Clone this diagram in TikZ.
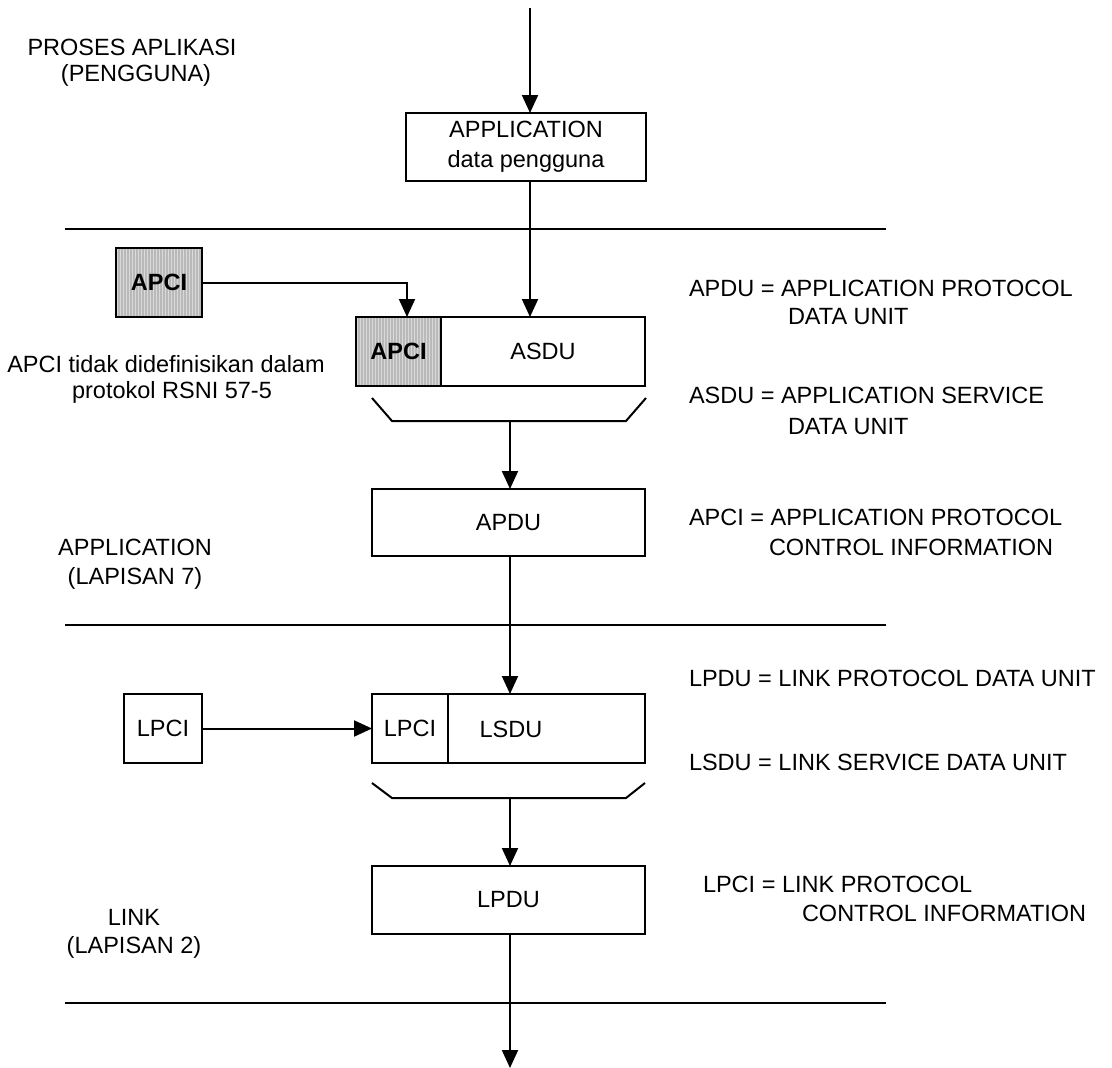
\documentclass[tikz,border=0pt]{standalone}
\usepackage{fontspec}
\setmainfont{Liberation Sans}
\usetikzlibrary{arrows.meta,patterns}
\begin{document}
\begin{tikzpicture}[x=1pt,y=-1pt,
  every node/.style={font=\fontsize{23.5}{30}\selectfont, inner sep=0pt, outer sep=0pt},
  ln/.style={line width=2pt},
  arr/.style={ln,-{Triangle[length=18pt,width=16pt]}},
  box/.style={draw,line width=2pt,fill=white,align=center},
  hatch/.style={draw,line width=2pt,preaction={fill=gray!55},
    pattern=vertical lines,pattern color=gray!30,font=\fontsize{23.5}{30}\selectfont\bfseries},
  txt/.style={anchor=base west},
  ctxt/.style={anchor=base}]

% page frame
\useasboundingbox (0,0) rectangle (1112,1068);

% layer separators
\coordinate (s1a) at (65,229);  \coordinate (s1b) at (886,229);
\coordinate (s2a) at (65,625);  \coordinate (s2b) at (886,625);
\coordinate (s3a) at (65,1003); \coordinate (s3b) at (886,1003);
\draw[ln] (s1a) -- (s1b);
\draw[ln] (s2a) -- (s2b);
\draw[ln] (s3a) -- (s3b);

% user data
\coordinate (topin) at (530,8);
\node[box,minimum width=240pt,minimum height=68pt] (app) at (526,147)
  {APPLICATION\\data pengguna};
\draw[arr] (topin) -- (app.north -| topin);

% application layer
\node[hatch,minimum width=86pt,minimum height=69pt] (apciL) at (159,282.5) {APCI};
\node[hatch,minimum width=85pt,minimum height=69pt] (apciA) at (398.5,351.5) {APCI};
\node[box,minimum width=204pt,minimum height=69pt] (asdu) at (543,351.5) {ASDU};
\coordinate (apin) at (407,317);
\draw[arr] (apciL.east) -| (apin);
\draw[arr] (app.south -| topin) -- (asdu.north -| topin);

\coordinate (b1a) at (372,398); \coordinate (b1b) at (392,421);
\coordinate (b1c) at (626,421); \coordinate (b1d) at (646,398);
\draw[ln] (b1a) -- (b1b) -- (b1c) -- (b1d);
\coordinate (ax1) at (510,421);

\node[box,minimum width=273pt,minimum height=67pt] (apdu) at (508.5,522.5) {APDU};
\draw[arr] (ax1) -- (apdu.north -| ax1);

% link layer
\node[box,minimum width=78pt,minimum height=69pt] (lpciL) at (163,728.5) {LPCI};
\node[box,minimum width=76pt,minimum height=69pt] (lpciA) at (410,728.5) {LPCI};
\node[box,minimum width=197pt,minimum height=69pt] (lsdu) at (546.5,728.5) {};
\node (lsdut) at (511,729.5) {LSDU};
\draw[arr] (apdu.south -| ax1) -- (lsdu.north -| ax1);
\draw[arr] (lpciL.east) -- (lpciA.west);

\coordinate (b2a) at (372,783); \coordinate (b2b) at (392,798);
\coordinate (b2c) at (626,798); \coordinate (b2d) at (645,783);
\draw[ln] (b2a) -- (b2b) -- (b2c) -- (b2d);
\coordinate (ax2) at (510,798);

\node[box,minimum width=273pt,minimum height=68pt] (lpdu) at (508.5,900) {LPDU};
\draw[arr] (ax2) -- (lpdu.north -| ax2);
\coordinate (botout) at (510,1068);
\draw[arr] (lpdu.south -| botout) -- (botout);

% layer names
\node[ctxt] (p1) at (132,55) {PROSES APLIKASI};
\node[ctxt] (p2) at (136,81) {(PENGGUNA)};
\node[ctxt] (n1) at (166,372) {APCI tidak didefinisikan dalam};
\node[ctxt] (n2) at (172,398) {protokol RSNI 57-5};
\node[ctxt] (a1) at (135,555) {APPLICATION};
\node[ctxt] (a2) at (135,584) {(LAPISAN 7)};
\node[ctxt] (k1) at (134,925) {LINK};
\node[ctxt] (k2) at (134,953) {(LAPISAN 2)};

% abbreviations
\node[txt] (d1) at (689,296) {APDU = APPLICATION PROTOCOL};
\node[txt] (d1b) at (788,324) {DATA UNIT};
\node[txt] (d2) at (689,403) {ASDU = APPLICATION SERVICE};
\node[txt] (d2b) at (788,434) {DATA UNIT};
\node[txt] (d3) at (689,525) {APCI = APPLICATION PROTOCOL};
\node[txt] (d3b) at (769,555) {CONTROL INFORMATION};
\node[txt] (d4) at (689,686) {LPDU = LINK PROTOCOL DATA UNIT};
\node[txt] (d5) at (689,770) {LSDU = LINK SERVICE DATA UNIT};
\node[txt] (d6) at (703,892) {LPCI = LINK PROTOCOL};
\node[txt] (d6b) at (802,921) {CONTROL INFORMATION};
\end{tikzpicture}
\end{document}
